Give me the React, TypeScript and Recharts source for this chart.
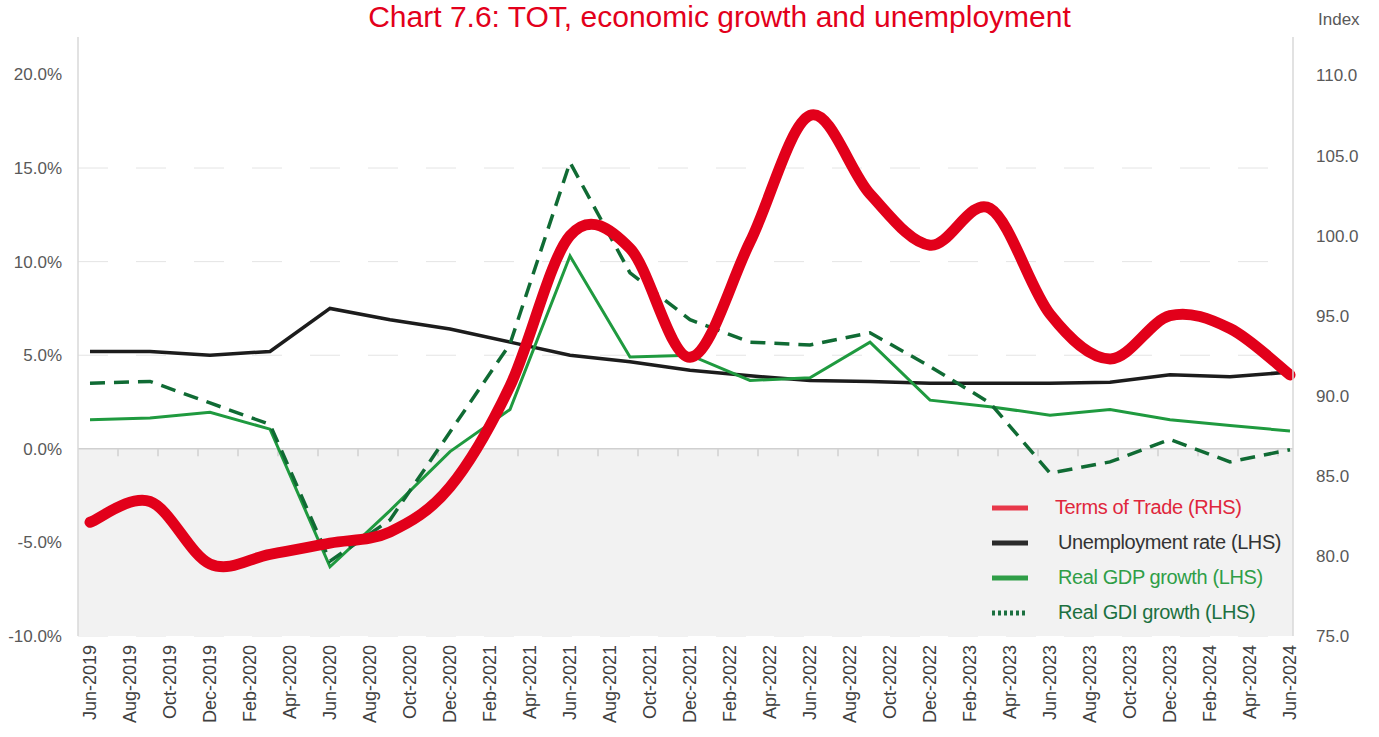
import {
  CartesianGrid,
  Legend,
  Line,
  LineChart,
  ReferenceArea,
  ReferenceLine,
  XAxis,
  YAxis,
} from "recharts";

const FONT = '"Liberation Sans", Arial, sans-serif';

// quarterly observations, Jun-2019 .. Jun-2024
const QUARTERS = [
  "Jun-2019", "Sep-2019", "Dec-2019", "Mar-2020", "Jun-2020", "Sep-2020", "Dec-2020",
  "Mar-2021", "Jun-2021", "Sep-2021", "Dec-2021", "Mar-2022", "Jun-2022", "Sep-2022",
  "Dec-2022", "Mar-2023", "Jun-2023", "Sep-2023", "Dec-2023", "Mar-2024", "Jun-2024",
];
const TERMS_OF_TRADE = [
  82.1, 83.4, 79.5, 80.1, 80.8, 81.5, 84.3, 90.6, 100.0, 99.2, 92.4, 99.6, 107.5, 102.6,
  99.4, 101.7, 95.1, 92.3, 95.0, 94.2, 91.3,
];
const UNEMPLOYMENT = [
  5.2, 5.2, 5.0, 5.2, 7.5, 6.9, 6.4, 5.7, 5.0, 4.65, 4.2, 3.9, 3.65, 3.6, 3.5, 3.5, 3.5,
  3.55, 3.95, 3.85, 4.1,
];
const GDP_GROWTH = [
  1.55, 1.65, 1.95, 1.05, -6.3, -3.3, -0.15, 2.1, 10.3, 4.9, 5.0, 3.65, 3.8, 5.7, 2.6,
  2.25, 1.8, 2.1, 1.55, 1.25, 0.95,
];
const GDI_GROWTH = [
  3.5, 3.6, 2.45, 1.3, -6.0, -3.8, 0.9, 5.6, 15.3, 9.4, 6.9, 5.7, 5.55, 6.2, 4.4, 2.45,
  -1.3, -0.7, 0.5, -0.7, -0.05,
];

const TICK_LABELS = [
  "Jun-2019", "Aug-2019", "Oct-2019", "Dec-2019", "Feb-2020", "Apr-2020", "Jun-2020",
  "Aug-2020", "Oct-2020", "Dec-2020", "Feb-2021", "Apr-2021", "Jun-2021", "Aug-2021",
  "Oct-2021", "Dec-2021", "Feb-2022", "Apr-2022", "Jun-2022", "Aug-2022", "Oct-2022",
  "Dec-2022", "Feb-2023", "Apr-2023", "Jun-2023", "Aug-2023", "Oct-2023", "Dec-2023",
  "Feb-2024", "Apr-2024", "Jun-2024",
];
const LEFT_TICKS = [-10, -5, 0, 5, 10, 15, 20];
const RIGHT_TICKS = [75, 80, 85, 90, 95, 100, 105, 110];

// months since Jun-2019
const data = QUARTERS.map((quarter, i) => ({
  quarter,
  month: i * 3,
  tot: TERMS_OF_TRADE[i],
  unemployment: UNEMPLOYMENT[i],
  gdp: GDP_GROWTH[i],
  gdi: GDI_GROWTH[i],
}));
const TICK_MONTHS = TICK_LABELS.map((_, i) => i * 2);

const LEGEND_ITEMS = [
  { label: "Terms of Trade (RHS)", line: "#e8384a", text: "#e0263c", dash: undefined, gap: 27 },
  { label: "Unemployment rate (LHS)", line: "#2b2b2b", text: "#333333", dash: undefined, gap: 30 },
  { label: "Real GDP growth (LHS)", line: "#2f9e47", text: "#2f9e47", dash: undefined, gap: 30 },
  { label: "Real GDI growth (LHS)", line: "#1c7040", text: "#1c7040", dash: "3 3", gap: 30 },
];

// Excel-style smoothed line (uniform Catmull-Rom)
function smoothCurve(context: any) {
  let pts: number[][] = [];
  return {
    areaStart() {},
    areaEnd() {},
    lineStart() {
      pts = [];
    },
    lineEnd() {
      if (!pts.length) return;
      context.moveTo(pts[0][0], pts[0][1]);
      for (let i = 0; i < pts.length - 1; i++) {
        const p0 = pts[i - 1] || pts[i];
        const p1 = pts[i];
        const p2 = pts[i + 1];
        const p3 = pts[i + 2] || p2;
        context.bezierCurveTo(
          p1[0] + (p2[0] - p0[0]) / 6,
          p1[1] + (p2[1] - p0[1]) / 6,
          p2[0] - (p3[0] - p1[0]) / 6,
          p2[1] - (p3[1] - p1[1]) / 6,
          p2[0],
          p2[1],
        );
      }
    },
    point(x: number, y: number) {
      pts.push([+x, +y]);
    },
  };
}

function MonthTick({ x, y, payload }: any) {
  const label = TICK_LABELS[Math.round(payload.value / 2)];
  return (
    <text
      x={x}
      y={y}
      transform={`rotate(-90 ${x} ${y})`}
      textAnchor="end"
      dominantBaseline="central"
      fill="#404040"
      fontSize={18}
      fontFamily={FONT}
    >
      {label}
    </text>
  );
}

function LegendBox() {
  return (
    <div style={{ fontFamily: FONT, fontSize: 20 }}>
      {LEGEND_ITEMS.map((item) => (
        <div key={item.label} style={{ display: "flex", alignItems: "center", height: 35 }}>
          <svg width={36} height={10} style={{ marginLeft: 8 }}>
            <line
              x1={0}
              y1={5}
              x2={36}
              y2={5}
              stroke={item.line}
              strokeWidth={5}
              strokeDasharray={item.dash}
            />
          </svg>
          <span style={{ marginLeft: item.gap, color: item.text, letterSpacing: -0.4 }}>
            {item.label}
          </span>
        </div>
      ))}
    </div>
  );
}

export default function App() {
  return (
    <div style={{ position: "absolute", left: 0, top: 0, width: 1379, height: 737, background: "#fff" }}>
      <div
        style={{
          position: "absolute",
          left: 0,
          top: 2,
          width: 1379,
          paddingLeft: 60,
          boxSizing: "border-box",
          textAlign: "center",
          color: "#e3001b",
          fontFamily: FONT,
          fontSize: 30,
          lineHeight: "29px",
        }}
      >
        Chart 7.6: TOT, economic growth and unemployment
      </div>
      <div
        style={{
          position: "absolute",
          left: 1318,
          top: 11,
          color: "#595959",
          fontFamily: FONT,
          fontSize: 17,
          lineHeight: "17px",
        }}
      >
        Index
      </div>
      <LineChart width={1379} height={737} data={data} margin={{ top: 37, right: 0, bottom: 0, left: 0 }}>
        <ReferenceArea y1={-10} y2={0} fill="#f2f2f2" fillOpacity={1} stroke="none" />
        <CartesianGrid
          vertical={false}
          horizontalValues={[-10, -5, 5, 10, 15]}
          stroke="#e4e4e4"
          strokeDasharray="30 28"
        />
        <XAxis
          type="number"
          dataKey="month"
          domain={[-0.6, 60.15]}
          ticks={TICK_MONTHS}
          interval={0}
          height={101}
          axisLine={false}
          tickLine={false}
          tickMargin={3}
          tick={<MonthTick />}
        />
        <YAxis
          domain={[-10, 22]}
          ticks={LEFT_TICKS}
          width={78}
          axisLine={{ stroke: "#d9d9d9", strokeWidth: 1.5 }}
          tickLine={false}
          tickMargin={10}
          tickFormatter={(v: number) => `${v.toFixed(1)}%`}
          tick={{ fill: "#595959", fontSize: 17, fontFamily: FONT }}
        />
        <YAxis
          yAxisId="right"
          orientation="right"
          domain={[75, 112.4]}
          ticks={RIGHT_TICKS}
          width={86}
          axisLine={{ stroke: "#d9d9d9", strokeWidth: 1.5 }}
          tickLine={false}
          tickMargin={17}
          tickFormatter={(v: number) => v.toFixed(1)}
          tick={{ fill: "#595959", fontSize: 17, fontFamily: FONT }}
        />
        <ReferenceLine y={0} stroke="#d0d0d0" strokeWidth={1.5} />
        {TICK_MONTHS.slice(1).map((m) => (
          <ReferenceLine
            key={m}
            segment={[
              { x: m - 0.6, y: 0 },
              { x: m - 0.6, y: -0.4 },
            ]}
            stroke="#d0d0d0"
            strokeWidth={1.5}
          />
        ))}
        <Line
          dataKey="unemployment"
          type="linear"
          stroke="#1c1c1c"
          strokeWidth={3.5}
          dot={false}
          isAnimationActive={false}
        />
        <Line
          dataKey="gdp"
          type="linear"
          stroke="#1f9a3f"
          strokeWidth={3}
          dot={false}
          isAnimationActive={false}
        />
        <Line
          dataKey="gdi"
          type="linear"
          stroke="#106b34"
          strokeWidth={3.5}
          strokeDasharray="15 9"
          dot={false}
          isAnimationActive={false}
        />
        <Line
          dataKey="tot"
          yAxisId="right"
          type={smoothCurve as any}
          stroke="#e2001a"
          strokeWidth={11}
          strokeLinecap="round"
          strokeLinejoin="round"
          dot={false}
          isAnimationActive={false}
        />
        <Legend
          layout="horizontal"
          verticalAlign="middle"
          align="center"
          wrapperStyle={{ left: 984, top: 490, width: 330 }}
          content={<LegendBox />}
        />
      </LineChart>
    </div>
  );
}
